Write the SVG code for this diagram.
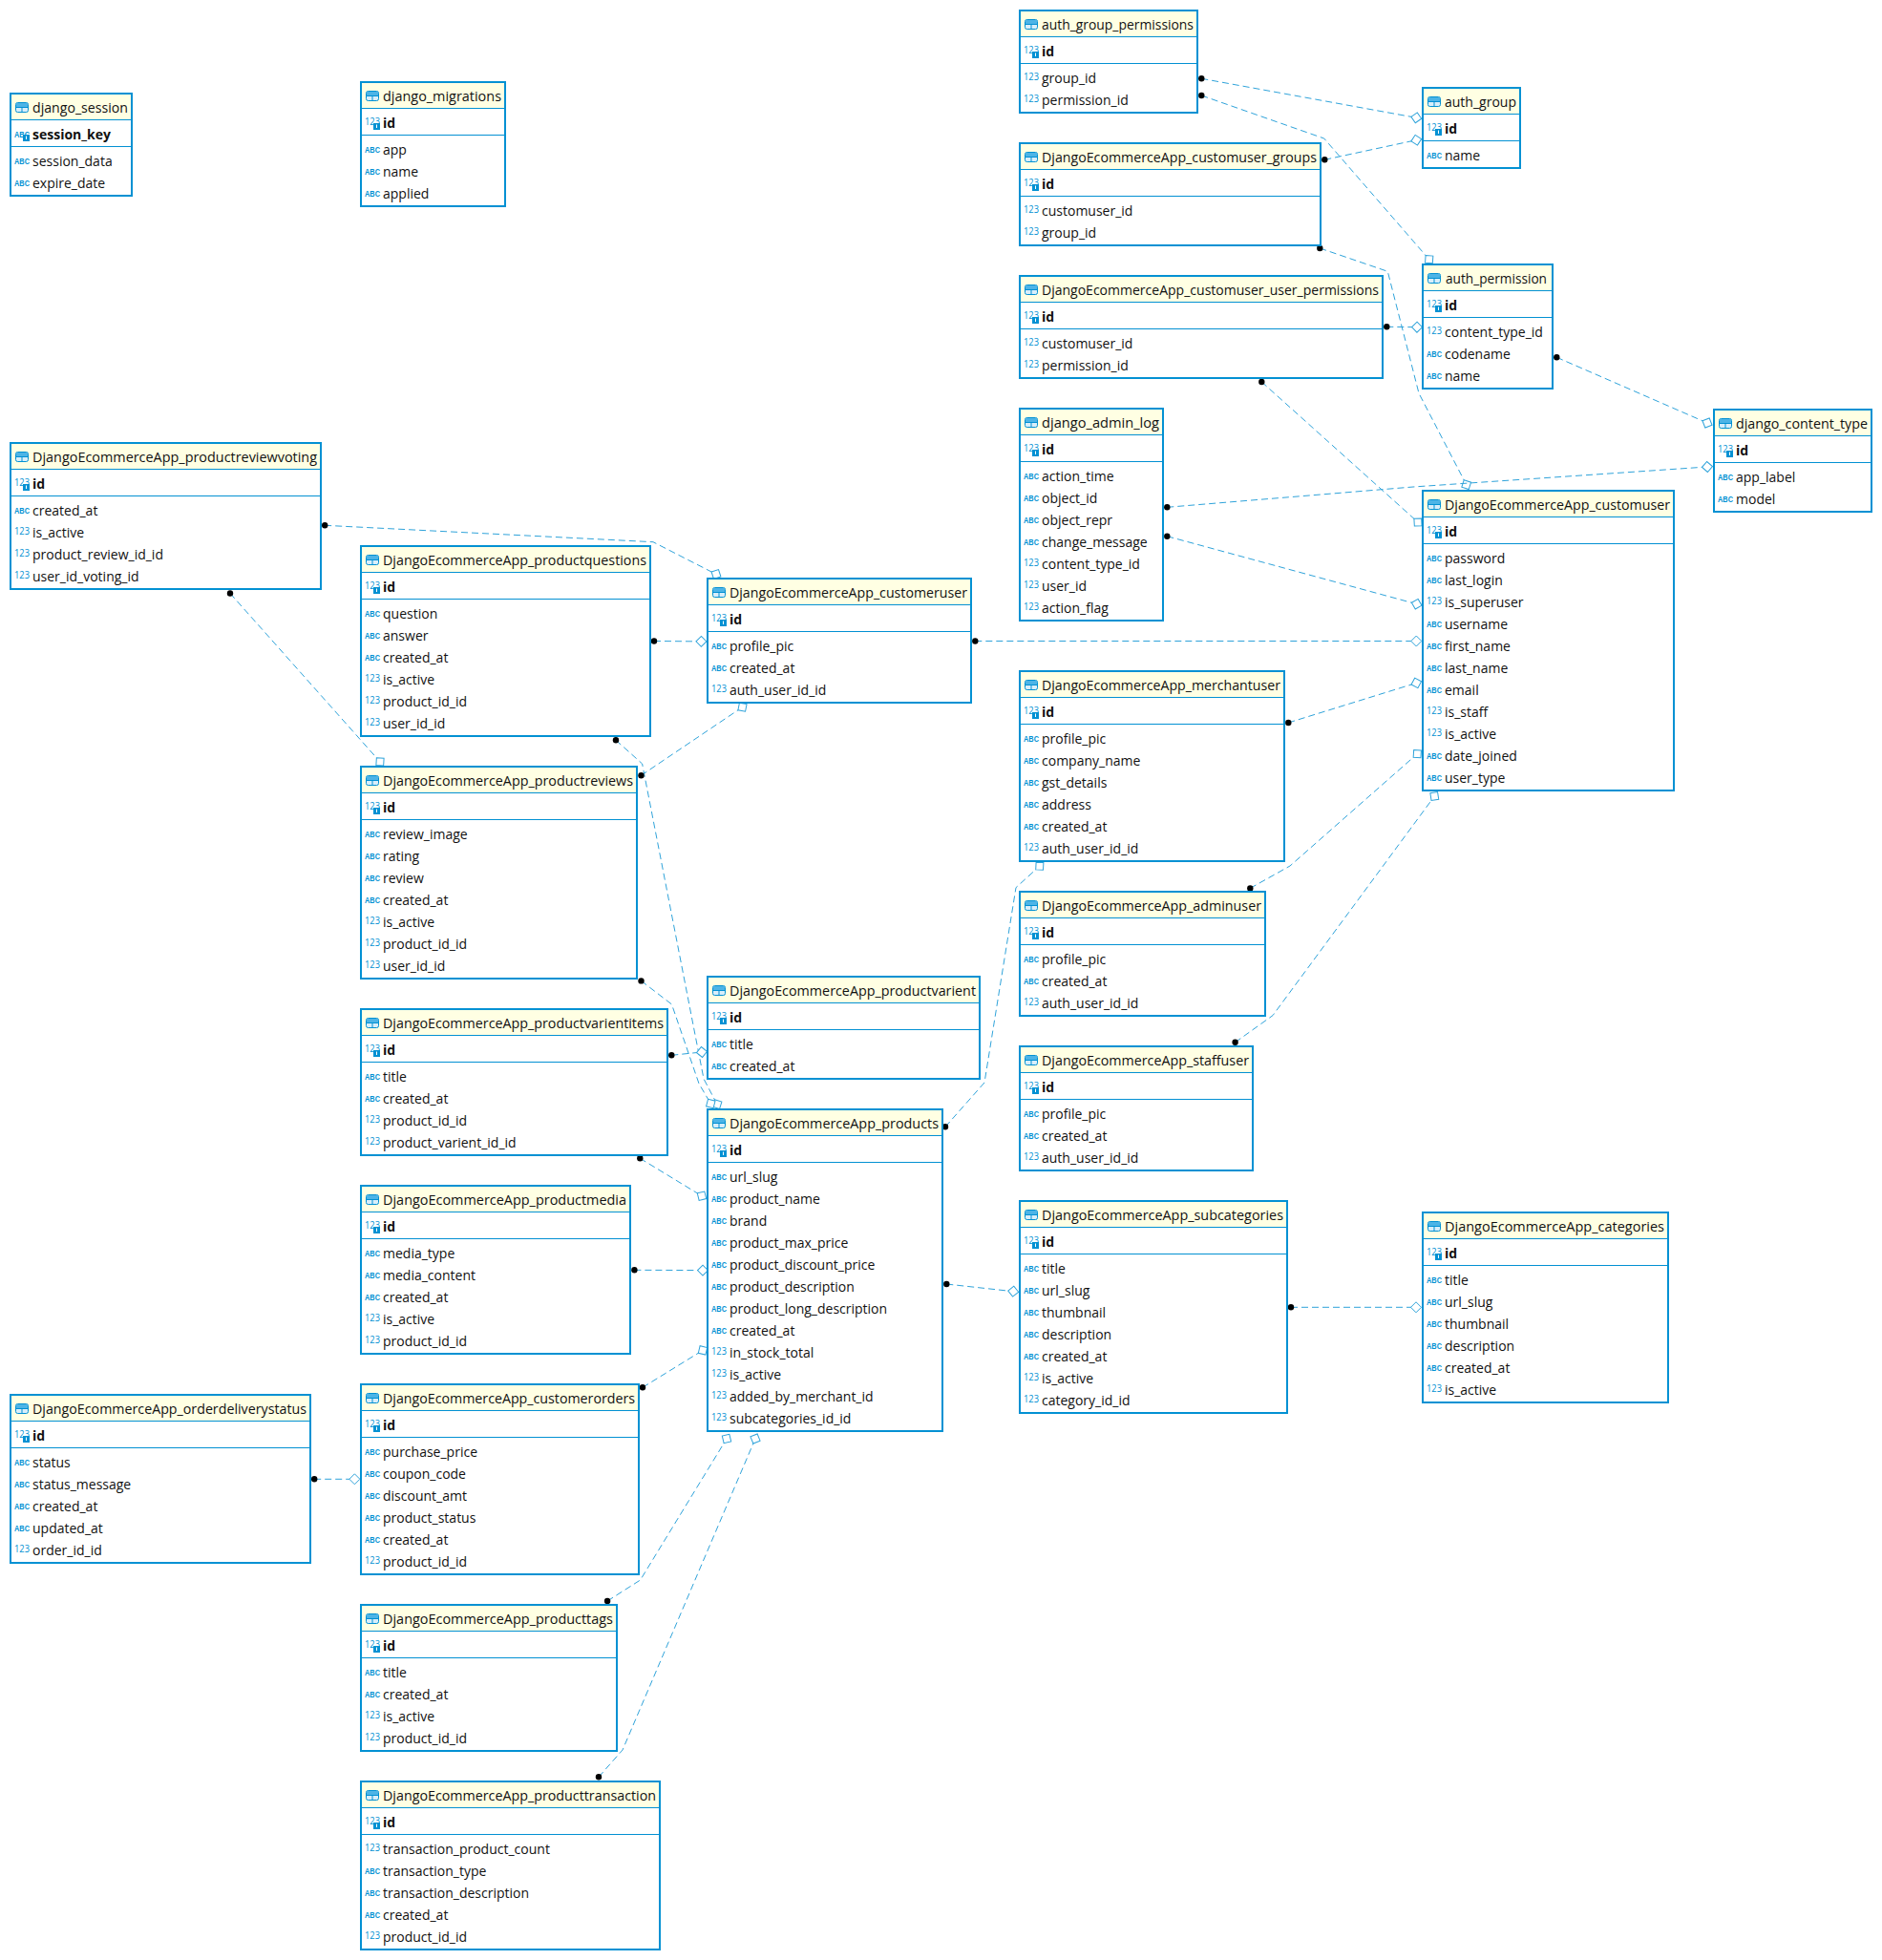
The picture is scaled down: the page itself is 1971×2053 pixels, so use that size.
<svg xmlns="http://www.w3.org/2000/svg" width="1971" height="2053" viewBox="0 0 1971 2053">
<style>
text{font-family:"Open Sans","Noto Sans","Liberation Sans",sans-serif;font-size:14px;fill:#111}
.box{fill:#fff;stroke:#0391d3;stroke-width:2}
.hd{fill:#ffffe3}
.dv{stroke:#0391d3;stroke-width:1}
.k{font-weight:700}
.i{font-family:"Open Sans","Liberation Sans",sans-serif;font-size:11px;fill:#0391d3}
.a{font-family:"Liberation Sans",sans-serif;font-size:8.5px;font-weight:700;fill:#0391d3}
.c{fill:none;stroke:#2fa3da;stroke-width:1;stroke-dasharray:7 4;marker-start:url(#dot);marker-end:url(#dia)}
</style>
<defs>
<marker id="dot" markerUnits="userSpaceOnUse" markerWidth="8" markerHeight="8" refX="4" refY="4"><circle cx="4" cy="4" r="3.2" fill="#000"/></marker>
<marker id="dia" markerUnits="userSpaceOnUse" markerWidth="14" markerHeight="14" refX="7" refY="7" orient="auto"><path d="M1.5 7L7 1.5L12.5 7L7 12.5Z" fill="#fff" stroke="#2fa3da" stroke-width="1" stroke-dasharray="none"/></marker>
<g id="tb"><rect x="5.5" y="9.5" width="13" height="10" rx="2" fill="#d8eefa" stroke="#0391d3"/><rect x="6" y="10" width="12" height="4" fill="#4db4e6"/><path d="M5.5 14.5H18.5M12 14.5V19.5" stroke="#0391d3" fill="none"/></g>
<text id="n" class="i" x="4" y="-3" textLength="16" lengthAdjust="spacingAndGlyphs">123</text>
<text id="s" class="a" x="4" y="-2.5" textLength="16" lengthAdjust="spacingAndGlyphs">ABC</text>
<g id="pk"><text class="i" x="4" y="45" textLength="16" lengthAdjust="spacingAndGlyphs">123</text><rect x="13" y="43" width="7" height="7" fill="#0391d3"/><path d="M16.5 44.5v3.5" stroke="#fff"/></g>
<g id="pa"><text class="a" x="4" y="45.5" textLength="16" lengthAdjust="spacingAndGlyphs">ABC</text><rect x="13" y="43" width="7" height="7" fill="#0391d3"/><path d="M16.5 44.5v3.5" stroke="#fff"/></g>
</defs>
<g id="connectors">
<path class="c" d="M1258.3 82.3L1483.3 123.3"/>
<path class="c" d="M1258.3 100L1386.7 145L1496.7 271.7"/>
<path class="c" d="M1387.3 167.3L1483.3 146.7"/>
<path class="c" d="M1382.3 260L1453.3 284.3L1486 412L1535.7 507.7"/>
<path class="c" d="M1452.3 342.3L1484 342.7"/>
<path class="c" d="M1321.3 400L1485 547"/>
<path class="c" d="M1630.3 374.3L1788 443"/>
<path class="c" d="M1222.3 531.3L1480 510L1788 489"/>
<path class="c" d="M1222.3 561.7L1483.7 632.7"/>
<path class="c" d="M1021.3 671.5L1483.3 671.5"/>
<path class="c" d="M1349.3 757L1483.3 715.4"/>
<path class="c" d="M1309.3 930.4L1351 907L1484.3 789.6"/>
<path class="c" d="M1293.6 1091.8L1333 1063.6L1502.3 834"/>
<path class="c" d="M340.2 550.3L684 567.7L750 601.5"/>
<path class="c" d="M241 621.5L398 797.9"/>
<path class="c" d="M685 671.5L734.4 671.9"/>
<path class="c" d="M645 775.3L672.6 800L737 1130L751 1156.7"/>
<path class="c" d="M671.5 1027.4L703.5 1052L732 1135L744.3 1156"/>
<path class="c" d="M671.5 812.2L777.5 740.7"/>
<path class="c" d="M703.3 1105.3L735 1102"/>
<path class="c" d="M670.3 1213.3L735 1252.7"/>
<path class="c" d="M664.4 1330.3L736 1330.6"/>
<path class="c" d="M673 1453.3L736 1414.4"/>
<path class="c" d="M990 1180.3L1031 1134L1064 929.7L1088.8 907.2"/>
<path class="c" d="M991.3 1345L1061.2 1352.7"/>
<path class="c" d="M1352 1369.3L1483 1369.3"/>
<path class="c" d="M329.2 1549.3L371.4 1549.3"/>
<path class="c" d="M636.1 1677L670.6 1655L761 1507"/>
<path class="c" d="M627 1861.3L652 1833L791 1507"/>
</g>
<g id="django_session" transform="translate(11 98)"><rect class="box" width="127" height="107"/><rect class="hd" x="1" y="1" width="125" height="26"/><path class="dv" d="M0 27.5H127M0 55.5H127"/><use href="#tb"/><text x="23" y="20" textLength="100" lengthAdjust="spacingAndGlyphs">django_session</text><use href="#pa"/><text class="k" x="23" y="48">session_key</text><use href="#s" y="76"/><text x="23" y="76">session_data</text><use href="#s" y="99"/><text x="23" y="99">expire_date</text></g>
<g id="django_migrations" transform="translate(378 86)"><rect class="box" width="151" height="130"/><rect class="hd" x="1" y="1" width="149" height="26"/><path class="dv" d="M0 27.5H151M0 55.5H151"/><use href="#tb"/><text x="23" y="20" textLength="124" lengthAdjust="spacingAndGlyphs">django_migrations</text><use href="#pk"/><text class="k" x="23" y="48">id</text><use href="#s" y="76"/><text x="23" y="76">app</text><use href="#s" y="99"/><text x="23" y="99">name</text><use href="#s" y="122"/><text x="23" y="122">applied</text></g>
<g id="auth_group_permissions" transform="translate(1068 11)"><rect class="box" width="186" height="107"/><rect class="hd" x="1" y="1" width="184" height="26"/><path class="dv" d="M0 27.5H186M0 55.5H186"/><use href="#tb"/><text x="23" y="20" textLength="159" lengthAdjust="spacingAndGlyphs">auth_group_permissions</text><use href="#pk"/><text class="k" x="23" y="48">id</text><use href="#n" y="76"/><text x="23" y="76">group_id</text><use href="#n" y="99"/><text x="23" y="99">permission_id</text></g>
<g id="DjangoEcommerceApp_customuser_groups" transform="translate(1068 150)"><rect class="box" width="315" height="107"/><rect class="hd" x="1" y="1" width="313" height="26"/><path class="dv" d="M0 27.5H315M0 55.5H315"/><use href="#tb"/><text x="23" y="20" textLength="288" lengthAdjust="spacingAndGlyphs">DjangoEcommerceApp_customuser_groups</text><use href="#pk"/><text class="k" x="23" y="48">id</text><use href="#n" y="76"/><text x="23" y="76">customuser_id</text><use href="#n" y="99"/><text x="23" y="99">group_id</text></g>
<g id="DjangoEcommerceApp_customuser_user_permissions" transform="translate(1068 289)"><rect class="box" width="380" height="107"/><rect class="hd" x="1" y="1" width="378" height="26"/><path class="dv" d="M0 27.5H380M0 55.5H380"/><use href="#tb"/><text x="23" y="20" textLength="353" lengthAdjust="spacingAndGlyphs">DjangoEcommerceApp_customuser_user_permissions</text><use href="#pk"/><text class="k" x="23" y="48">id</text><use href="#n" y="76"/><text x="23" y="76">customuser_id</text><use href="#n" y="99"/><text x="23" y="99">permission_id</text></g>
<g id="auth_group" transform="translate(1490 92)"><rect class="box" width="102" height="84"/><rect class="hd" x="1" y="1" width="100" height="26"/><path class="dv" d="M0 27.5H102M0 55.5H102"/><use href="#tb"/><text x="23" y="20" textLength="75" lengthAdjust="spacingAndGlyphs">auth_group</text><use href="#pk"/><text class="k" x="23" y="48">id</text><use href="#s" y="76"/><text x="23" y="76">name</text></g>
<g id="auth_permission" transform="translate(1490 277)"><rect class="box" width="136" height="130"/><rect class="hd" x="1" y="1" width="134" height="26"/><path class="dv" d="M0 27.5H136M0 55.5H136"/><use href="#tb"/><text x="24" y="20" textLength="106" lengthAdjust="spacingAndGlyphs">auth_permission</text><use href="#pk"/><text class="k" x="23" y="48">id</text><use href="#n" y="76"/><text x="23" y="76">content_type_id</text><use href="#s" y="99"/><text x="23" y="99">codename</text><use href="#s" y="122"/><text x="23" y="122">name</text></g>
<g id="django_content_type" transform="translate(1795 429)"><rect class="box" width="165" height="107"/><rect class="hd" x="1" y="1" width="163" height="26"/><path class="dv" d="M0 27.5H165M0 55.5H165"/><use href="#tb"/><text x="23" y="20" textLength="138" lengthAdjust="spacingAndGlyphs">django_content_type</text><use href="#pk"/><text class="k" x="23" y="48">id</text><use href="#s" y="76"/><text x="23" y="76">app_label</text><use href="#s" y="99"/><text x="23" y="99">model</text></g>
<g id="DjangoEcommerceApp_customuser" transform="translate(1490 514)"><rect class="box" width="263" height="314"/><rect class="hd" x="1" y="1" width="261" height="26"/><path class="dv" d="M0 27.5H263M0 55.5H263"/><use href="#tb"/><text x="23" y="20" textLength="236" lengthAdjust="spacingAndGlyphs">DjangoEcommerceApp_customuser</text><use href="#pk"/><text class="k" x="23" y="48">id</text><use href="#s" y="76"/><text x="23" y="76">password</text><use href="#s" y="99"/><text x="23" y="99">last_login</text><use href="#n" y="122"/><text x="23" y="122">is_superuser</text><use href="#s" y="145"/><text x="23" y="145">username</text><use href="#s" y="168"/><text x="23" y="168">first_name</text><use href="#s" y="191"/><text x="23" y="191">last_name</text><use href="#s" y="214"/><text x="23" y="214">email</text><use href="#n" y="237"/><text x="23" y="237">is_staff</text><use href="#n" y="260"/><text x="23" y="260">is_active</text><use href="#s" y="283"/><text x="23" y="283">date_joined</text><use href="#s" y="306"/><text x="23" y="306">user_type</text></g>
<g id="django_admin_log" transform="translate(1068 428)"><rect class="box" width="150" height="222"/><rect class="hd" x="1" y="1" width="148" height="26"/><path class="dv" d="M0 27.5H150M0 55.5H150"/><use href="#tb"/><text x="23" y="20" textLength="123" lengthAdjust="spacingAndGlyphs">django_admin_log</text><use href="#pk"/><text class="k" x="23" y="48">id</text><use href="#s" y="76"/><text x="23" y="76">action_time</text><use href="#s" y="99"/><text x="23" y="99">object_id</text><use href="#s" y="122"/><text x="23" y="122">object_repr</text><use href="#s" y="145"/><text x="23" y="145">change_message</text><use href="#n" y="168"/><text x="23" y="168">content_type_id</text><use href="#n" y="191"/><text x="23" y="191">user_id</text><use href="#n" y="214"/><text x="23" y="214">action_flag</text></g>
<g id="DjangoEcommerceApp_merchantuser" transform="translate(1068 703)"><rect class="box" width="277" height="199"/><rect class="hd" x="1" y="1" width="275" height="26"/><path class="dv" d="M0 27.5H277M0 55.5H277"/><use href="#tb"/><text x="23" y="20" textLength="250" lengthAdjust="spacingAndGlyphs">DjangoEcommerceApp_merchantuser</text><use href="#pk"/><text class="k" x="23" y="48">id</text><use href="#s" y="76"/><text x="23" y="76">profile_pic</text><use href="#s" y="99"/><text x="23" y="99">company_name</text><use href="#s" y="122"/><text x="23" y="122">gst_details</text><use href="#s" y="145"/><text x="23" y="145">address</text><use href="#s" y="168"/><text x="23" y="168">created_at</text><use href="#n" y="191"/><text x="23" y="191">auth_user_id_id</text></g>
<g id="DjangoEcommerceApp_adminuser" transform="translate(1068 934)"><rect class="box" width="257" height="130"/><rect class="hd" x="1" y="1" width="255" height="26"/><path class="dv" d="M0 27.5H257M0 55.5H257"/><use href="#tb"/><text x="23" y="20" textLength="230" lengthAdjust="spacingAndGlyphs">DjangoEcommerceApp_adminuser</text><use href="#pk"/><text class="k" x="23" y="48">id</text><use href="#s" y="76"/><text x="23" y="76">profile_pic</text><use href="#s" y="99"/><text x="23" y="99">created_at</text><use href="#n" y="122"/><text x="23" y="122">auth_user_id_id</text></g>
<g id="DjangoEcommerceApp_staffuser" transform="translate(1068 1096)"><rect class="box" width="244" height="130"/><rect class="hd" x="1" y="1" width="242" height="26"/><path class="dv" d="M0 27.5H244M0 55.5H244"/><use href="#tb"/><text x="23" y="20" textLength="217" lengthAdjust="spacingAndGlyphs">DjangoEcommerceApp_staffuser</text><use href="#pk"/><text class="k" x="23" y="48">id</text><use href="#s" y="76"/><text x="23" y="76">profile_pic</text><use href="#s" y="99"/><text x="23" y="99">created_at</text><use href="#n" y="122"/><text x="23" y="122">auth_user_id_id</text></g>
<g id="DjangoEcommerceApp_subcategories" transform="translate(1068 1258)"><rect class="box" width="280" height="222"/><rect class="hd" x="1" y="1" width="278" height="26"/><path class="dv" d="M0 27.5H280M0 55.5H280"/><use href="#tb"/><text x="23" y="20" textLength="253" lengthAdjust="spacingAndGlyphs">DjangoEcommerceApp_subcategories</text><use href="#pk"/><text class="k" x="23" y="48">id</text><use href="#s" y="76"/><text x="23" y="76">title</text><use href="#s" y="99"/><text x="23" y="99">url_slug</text><use href="#s" y="122"/><text x="23" y="122">thumbnail</text><use href="#s" y="145"/><text x="23" y="145">description</text><use href="#s" y="168"/><text x="23" y="168">created_at</text><use href="#n" y="191"/><text x="23" y="191">is_active</text><use href="#n" y="214"/><text x="23" y="214">category_id_id</text></g>
<g id="DjangoEcommerceApp_categories" transform="translate(1490 1270)"><rect class="box" width="257" height="199"/><rect class="hd" x="1" y="1" width="255" height="26"/><path class="dv" d="M0 27.5H257M0 55.5H257"/><use href="#tb"/><text x="23" y="20" textLength="230" lengthAdjust="spacingAndGlyphs">DjangoEcommerceApp_categories</text><use href="#pk"/><text class="k" x="23" y="48">id</text><use href="#s" y="76"/><text x="23" y="76">title</text><use href="#s" y="99"/><text x="23" y="99">url_slug</text><use href="#s" y="122"/><text x="23" y="122">thumbnail</text><use href="#s" y="145"/><text x="23" y="145">description</text><use href="#s" y="168"/><text x="23" y="168">created_at</text><use href="#n" y="191"/><text x="23" y="191">is_active</text></g>
<g id="DjangoEcommerceApp_productreviewvoting" transform="translate(11 464)"><rect class="box" width="325" height="153"/><rect class="hd" x="1" y="1" width="323" height="26"/><path class="dv" d="M0 27.5H325M0 55.5H325"/><use href="#tb"/><text x="23" y="20" textLength="298" lengthAdjust="spacingAndGlyphs">DjangoEcommerceApp_productreviewvoting</text><use href="#pk"/><text class="k" x="23" y="48">id</text><use href="#s" y="76"/><text x="23" y="76">created_at</text><use href="#n" y="99"/><text x="23" y="99">is_active</text><use href="#n" y="122"/><text x="23" y="122">product_review_id_id</text><use href="#n" y="145"/><text x="23" y="145">user_id_voting_id</text></g>
<g id="DjangoEcommerceApp_productquestions" transform="translate(378 572)"><rect class="box" width="303" height="199"/><rect class="hd" x="1" y="1" width="301" height="26"/><path class="dv" d="M0 27.5H303M0 55.5H303"/><use href="#tb"/><text x="23" y="20" textLength="276" lengthAdjust="spacingAndGlyphs">DjangoEcommerceApp_productquestions</text><use href="#pk"/><text class="k" x="23" y="48">id</text><use href="#s" y="76"/><text x="23" y="76">question</text><use href="#s" y="99"/><text x="23" y="99">answer</text><use href="#s" y="122"/><text x="23" y="122">created_at</text><use href="#n" y="145"/><text x="23" y="145">is_active</text><use href="#n" y="168"/><text x="23" y="168">product_id_id</text><use href="#n" y="191"/><text x="23" y="191">user_id_id</text></g>
<g id="DjangoEcommerceApp_productreviews" transform="translate(378 803)"><rect class="box" width="289" height="222"/><rect class="hd" x="1" y="1" width="287" height="26"/><path class="dv" d="M0 27.5H289M0 55.5H289"/><use href="#tb"/><text x="23" y="20" textLength="262" lengthAdjust="spacingAndGlyphs">DjangoEcommerceApp_productreviews</text><use href="#pk"/><text class="k" x="23" y="48">id</text><use href="#s" y="76"/><text x="23" y="76">review_image</text><use href="#s" y="99"/><text x="23" y="99">rating</text><use href="#s" y="122"/><text x="23" y="122">review</text><use href="#s" y="145"/><text x="23" y="145">created_at</text><use href="#n" y="168"/><text x="23" y="168">is_active</text><use href="#n" y="191"/><text x="23" y="191">product_id_id</text><use href="#n" y="214"/><text x="23" y="214">user_id_id</text></g>
<g id="DjangoEcommerceApp_productvarientitems" transform="translate(378 1057)"><rect class="box" width="321" height="153"/><rect class="hd" x="1" y="1" width="319" height="26"/><path class="dv" d="M0 27.5H321M0 55.5H321"/><use href="#tb"/><text x="23" y="20" textLength="294" lengthAdjust="spacingAndGlyphs">DjangoEcommerceApp_productvarientitems</text><use href="#pk"/><text class="k" x="23" y="48">id</text><use href="#s" y="76"/><text x="23" y="76">title</text><use href="#s" y="99"/><text x="23" y="99">created_at</text><use href="#n" y="122"/><text x="23" y="122">product_id_id</text><use href="#n" y="145"/><text x="23" y="145">product_varient_id_id</text></g>
<g id="DjangoEcommerceApp_customeruser" transform="translate(741 606)"><rect class="box" width="276" height="130"/><rect class="hd" x="1" y="1" width="274" height="26"/><path class="dv" d="M0 27.5H276M0 55.5H276"/><use href="#tb"/><text x="23" y="20" textLength="249" lengthAdjust="spacingAndGlyphs">DjangoEcommerceApp_customeruser</text><use href="#pk"/><text class="k" x="23" y="48">id</text><use href="#s" y="76"/><text x="23" y="76">profile_pic</text><use href="#s" y="99"/><text x="23" y="99">created_at</text><use href="#n" y="122"/><text x="23" y="122">auth_user_id_id</text></g>
<g id="DjangoEcommerceApp_productvarient" transform="translate(741 1023)"><rect class="box" width="285" height="107"/><rect class="hd" x="1" y="1" width="283" height="26"/><path class="dv" d="M0 27.5H285M0 55.5H285"/><use href="#tb"/><text x="23" y="20" textLength="258" lengthAdjust="spacingAndGlyphs">DjangoEcommerceApp_productvarient</text><use href="#pk"/><text class="k" x="23" y="48">id</text><use href="#s" y="76"/><text x="23" y="76">title</text><use href="#s" y="99"/><text x="23" y="99">created_at</text></g>
<g id="DjangoEcommerceApp_products" transform="translate(741 1162)"><rect class="box" width="246" height="337"/><rect class="hd" x="1" y="1" width="244" height="26"/><path class="dv" d="M0 27.5H246M0 55.5H246"/><use href="#tb"/><text x="23" y="20" textLength="219" lengthAdjust="spacingAndGlyphs">DjangoEcommerceApp_products</text><use href="#pk"/><text class="k" x="23" y="48">id</text><use href="#s" y="76"/><text x="23" y="76">url_slug</text><use href="#s" y="99"/><text x="23" y="99">product_name</text><use href="#s" y="122"/><text x="23" y="122">brand</text><use href="#s" y="145"/><text x="23" y="145">product_max_price</text><use href="#s" y="168"/><text x="23" y="168">product_discount_price</text><use href="#s" y="191"/><text x="23" y="191">product_description</text><use href="#s" y="214"/><text x="23" y="214">product_long_description</text><use href="#s" y="237"/><text x="23" y="237">created_at</text><use href="#n" y="260"/><text x="23" y="260">in_stock_total</text><use href="#n" y="283"/><text x="23" y="283">is_active</text><use href="#n" y="306"/><text x="23" y="306">added_by_merchant_id</text><use href="#n" y="329"/><text x="23" y="329">subcategories_id_id</text></g>
<g id="DjangoEcommerceApp_productmedia" transform="translate(378 1242)"><rect class="box" width="282" height="176"/><rect class="hd" x="1" y="1" width="280" height="26"/><path class="dv" d="M0 27.5H282M0 55.5H282"/><use href="#tb"/><text x="23" y="20" textLength="255" lengthAdjust="spacingAndGlyphs">DjangoEcommerceApp_productmedia</text><use href="#pk"/><text class="k" x="23" y="48">id</text><use href="#s" y="76"/><text x="23" y="76">media_type</text><use href="#s" y="99"/><text x="23" y="99">media_content</text><use href="#s" y="122"/><text x="23" y="122">created_at</text><use href="#n" y="145"/><text x="23" y="145">is_active</text><use href="#n" y="168"/><text x="23" y="168">product_id_id</text></g>
<g id="DjangoEcommerceApp_customerorders" transform="translate(378 1450)"><rect class="box" width="291" height="199"/><rect class="hd" x="1" y="1" width="289" height="26"/><path class="dv" d="M0 27.5H291M0 55.5H291"/><use href="#tb"/><text x="23" y="20" textLength="264" lengthAdjust="spacingAndGlyphs">DjangoEcommerceApp_customerorders</text><use href="#pk"/><text class="k" x="23" y="48">id</text><use href="#s" y="76"/><text x="23" y="76">purchase_price</text><use href="#s" y="99"/><text x="23" y="99">coupon_code</text><use href="#s" y="122"/><text x="23" y="122">discount_amt</text><use href="#s" y="145"/><text x="23" y="145">product_status</text><use href="#s" y="168"/><text x="23" y="168">created_at</text><use href="#n" y="191"/><text x="23" y="191">product_id_id</text></g>
<g id="DjangoEcommerceApp_orderdeliverystatus" transform="translate(11 1461)"><rect class="box" width="314" height="176"/><rect class="hd" x="1" y="1" width="312" height="26"/><path class="dv" d="M0 27.5H314M0 55.5H314"/><use href="#tb"/><text x="23" y="20" textLength="287" lengthAdjust="spacingAndGlyphs">DjangoEcommerceApp_orderdeliverystatus</text><use href="#pk"/><text class="k" x="23" y="48">id</text><use href="#s" y="76"/><text x="23" y="76">status</text><use href="#s" y="99"/><text x="23" y="99">status_message</text><use href="#s" y="122"/><text x="23" y="122">created_at</text><use href="#s" y="145"/><text x="23" y="145">updated_at</text><use href="#n" y="168"/><text x="23" y="168">order_id_id</text></g>
<g id="DjangoEcommerceApp_producttags" transform="translate(378 1681)"><rect class="box" width="268" height="153"/><rect class="hd" x="1" y="1" width="266" height="26"/><path class="dv" d="M0 27.5H268M0 55.5H268"/><use href="#tb"/><text x="23" y="20" textLength="241" lengthAdjust="spacingAndGlyphs">DjangoEcommerceApp_producttags</text><use href="#pk"/><text class="k" x="23" y="48">id</text><use href="#s" y="76"/><text x="23" y="76">title</text><use href="#s" y="99"/><text x="23" y="99">created_at</text><use href="#n" y="122"/><text x="23" y="122">is_active</text><use href="#n" y="145"/><text x="23" y="145">product_id_id</text></g>
<g id="DjangoEcommerceApp_producttransaction" transform="translate(378 1866)"><rect class="box" width="313" height="176"/><rect class="hd" x="1" y="1" width="311" height="26"/><path class="dv" d="M0 27.5H313M0 55.5H313"/><use href="#tb"/><text x="23" y="20" textLength="286" lengthAdjust="spacingAndGlyphs">DjangoEcommerceApp_producttransaction</text><use href="#pk"/><text class="k" x="23" y="48">id</text><use href="#n" y="76"/><text x="23" y="76">transaction_product_count</text><use href="#s" y="99"/><text x="23" y="99">transaction_type</text><use href="#s" y="122"/><text x="23" y="122">transaction_description</text><use href="#s" y="145"/><text x="23" y="145">created_at</text><use href="#n" y="168"/><text x="23" y="168">product_id_id</text></g>
</svg>
